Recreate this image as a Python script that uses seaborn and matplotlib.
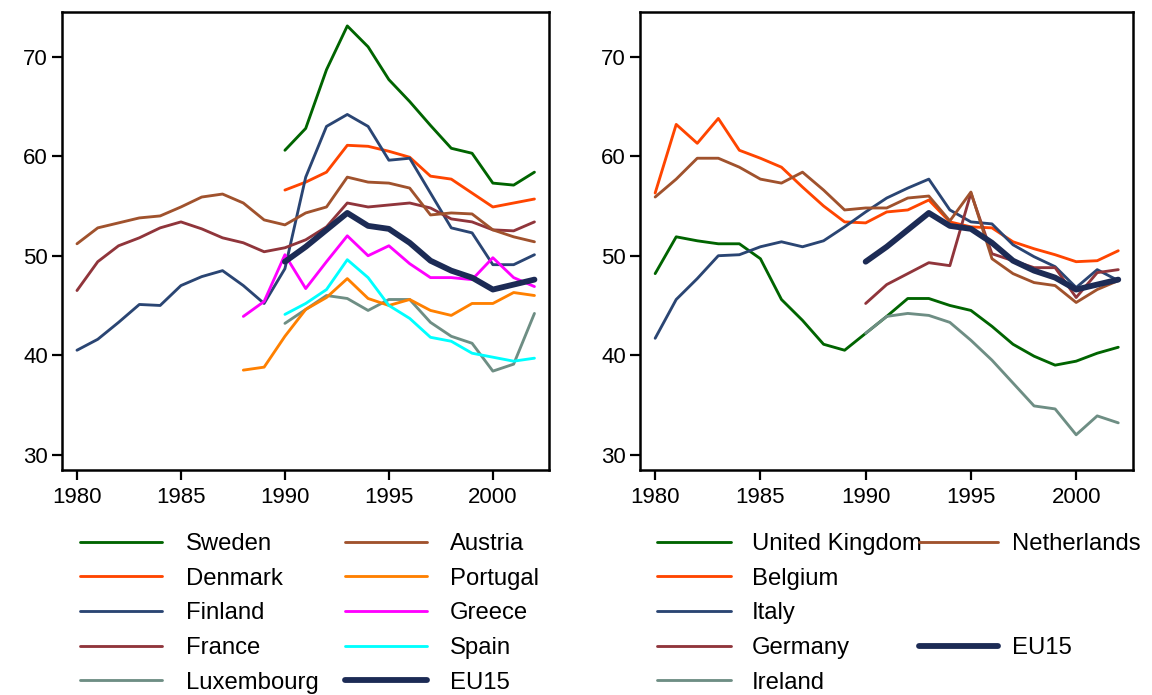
import numpy as np
import matplotlib.pyplot as plt
import seaborn as sns

nan = np.nan
years = list(range(1980, 2003))

# left panel
sweden = [nan] * 10 + [60.6, 62.8, 68.7, 73.1, 71.0, 67.7, 65.5, 63.1, 60.8, 60.3, 57.3, 57.1, 58.4]
denmark = [nan] * 10 + [56.6, 57.4, 58.4, 61.1, 61.0, 60.5, 59.9, 58.0, 57.7, 56.3, 54.9, 55.3, 55.7]
finland = [40.5, 41.6, 43.3, 45.1, 45.0, 47.0, 47.9, 48.5, 47.0, 45.2, 48.7, 57.9,
           63.0, 64.2, 63.0, 59.6, 59.8, 56.3, 52.8, 52.3, 49.1, 49.1, 50.1]
france = [46.5, 49.4, 51.0, 51.8, 52.8, 53.4, 52.7, 51.8, 51.3, 50.4, 50.8, 51.6,
          52.9, 55.3, 54.9, 55.1, 55.3, 54.8, 53.7, 53.4, 52.6, 52.5, 53.4]
luxembourg = [nan] * 10 + [43.2, 44.6, 46.0, 45.7, 44.5, 45.6, 45.6, 43.3, 41.9, 41.2, 38.4, 39.1, 44.2]
austria = [51.2, 52.8, 53.3, 53.8, 54.0, 54.9, 55.9, 56.2, 55.3, 53.6, 53.1, 54.3,
           54.9, 57.9, 57.4, 57.3, 56.8, 54.1, 54.3, 54.2, 52.6, 51.9, 51.4]
portugal = [nan] * 8 + [38.5, 38.8, 41.9, 44.6, 45.8, 47.7, 45.7, 45.0, 45.6, 44.5, 44.0, 45.2, 45.2, 46.3, 46.0]
greece = [nan] * 8 + [43.9, 45.4, 50.1, 46.7, 49.4, 52.0, 50.0, 51.0, 49.2, 47.8, 47.8, 47.6, 49.8, 47.8, 46.9]
spain = [nan] * 10 + [44.1, 45.2, 46.6, 49.6, 47.8, 45.0, 43.7, 41.8, 41.4, 40.2, 39.8, 39.4, 39.7]
eu15 = [nan] * 10 + [49.4, 50.9, 52.6, 54.3, 53.0, 52.7, 51.3, 49.5, 48.5, 47.8, 46.6, 47.1, 47.6]

# right panel
uk = [48.2, 51.9, 51.5, 51.2, 51.2, 49.7, 45.6, 43.5, 41.1, 40.5, 42.2, 43.9,
      45.7, 45.7, 45.0, 44.5, 42.9, 41.1, 39.9, 39.0, 39.4, 40.2, 40.8]
belgium = [56.3, 63.2, 61.3, 63.8, 60.6, 59.8, 58.9, 56.9, 55.0, 53.4, 53.3, 54.4,
           54.6, 55.6, 53.4, 52.9, 52.8, 51.4, 50.7, 50.1, 49.4, 49.5, 50.5]
italy = [41.7, 45.6, 47.7, 50.0, 50.1, 50.9, 51.4, 50.9, 51.5, 52.9, 54.4, 55.8,
         56.8, 57.7, 54.6, 53.4, 53.2, 51.1, 49.9, 48.9, 46.8, 48.6, 47.5]
germany = [nan] * 10 + [45.2, 47.1, 48.2, 49.3, 49.0, 56.3, 50.2, 49.5, 48.8, 48.8, 45.8, 48.3, 48.6]
ireland = [nan] * 10 + [42.2, 43.9, 44.2, 44.0, 43.3, 41.5, 39.5, 37.2, 34.9, 34.6, 32.0, 33.9, 33.2]
netherlands = [55.9, 57.7, 59.8, 59.8, 58.9, 57.7, 57.3, 58.4, 56.6, 54.6, 54.8, 54.8,
               55.8, 56.0, 53.5, 56.4, 49.7, 48.2, 47.3, 47.0, 45.3, 46.6, 47.5]

GREEN, RED, NAVY, MAROON = "#006400", "#FF4500", "#2A4573", "#90353B"
TEAL, SIENNA, ORANGE = "#6E8E84", "#A0522D", "#FF8000"
EU_COL = "#1C2B55"

left_series = [
    ("Sweden", sweden, GREEN), ("Denmark", denmark, RED), ("Finland", finland, NAVY),
    ("France", france, MAROON), ("Luxembourg", luxembourg, TEAL),
    ("Austria", austria, SIENNA), ("Portugal", portugal, ORANGE),
    ("Greece", greece, "#FF00FF"), ("Spain", spain, "#00FFFF"), ("EU15", eu15, EU_COL),
]
right_series = [
    ("United Kingdom", uk, GREEN), ("Belgium", belgium, RED), ("Italy", italy, NAVY),
    ("Germany", germany, MAROON), ("Ireland", ireland, TEAL),
    ("Netherlands", netherlands, SIENNA), ("EU15", eu15, EU_COL),
]

sns.set_style("white")
plt.rcParams["font.family"] = ["Liberation Sans", "DejaVu Sans"]
TICK_FS = 16
LEG_FS = 17.2

fig = plt.figure(figsize=(11.52, 6.95), dpi=100)
ax_l = fig.add_axes([62 / 1152, 1 - 470 / 695, 487 / 1152, 458 / 695])
ax_r = fig.add_axes([640 / 1152, 1 - 470 / 695, 493 / 1152, 458 / 695])


def draw_panel(ax, series):
    handles = {}
    for name, vals, col in series:
        xs = [y for y, v in zip(years, vals) if not np.isnan(v)]
        ys = [v for v in vals if not np.isnan(v)]
        lw = 4.2 if name == "EU15" else 2.05
        sns.lineplot(x=xs, y=ys, ax=ax, color=col, linewidth=lw, estimator=None)
        handles[name] = ax.lines[-1]
    ax.set_xlim(1979.28, 2002.7)
    ax.set_ylim(28.46, 74.5)
    ax.set_xticks([1980, 1985, 1990, 1995, 2000])
    ax.set_yticks([30, 40, 50, 60, 70])
    ax.tick_params(axis="both", direction="out", length=7, width=1.6,
                   labelsize=TICK_FS, color="black", labelcolor="black",
                   left=True, bottom=True)
    ax.tick_params(axis="x", pad=5)
    ax.tick_params(axis="y", pad=3)
    for sp in ax.spines.values():
        sp.set_linewidth(1.8)
        sp.set_color("black")
    ax.set_xlabel("")
    ax.set_ylabel("")
    return handles


h_l = draw_panel(ax_l, left_series)
h_r = draw_panel(ax_r, right_series)

blank = plt.Line2D([], [], color="none")
top = 1 - 533 / 695


def column(handles, names, x, hlen, pad):
    hs = [handles[n] if n else blank for n in names]
    labels = [n if n else " " for n in names]
    fig.legend(hs, labels, bbox_to_anchor=(x / 1152, top), loc="upper left",
               frameon=False, fontsize=LEG_FS, borderpad=0, borderaxespad=0,
               handlelength=hlen, handletextpad=pad, labelspacing=0.53,
               labelcolor="black")


column(h_l, ["Sweden", "Denmark", "Finland", "France", "Luxembourg"], 80, 3.43, 1.0)
column(h_l, ["Austria", "Portugal", "Greece", "Spain", "EU15"], 345, 3.43, 0.96)
column(h_r, ["United Kingdom", "Belgium", "Italy", "Germany", "Ireland"], 657, 3.1, 0.88)
column(h_r, ["Netherlands", None, None, "EU15", None], 919, 3.3, 0.6)

fig.savefig("out.png", dpi=100)
